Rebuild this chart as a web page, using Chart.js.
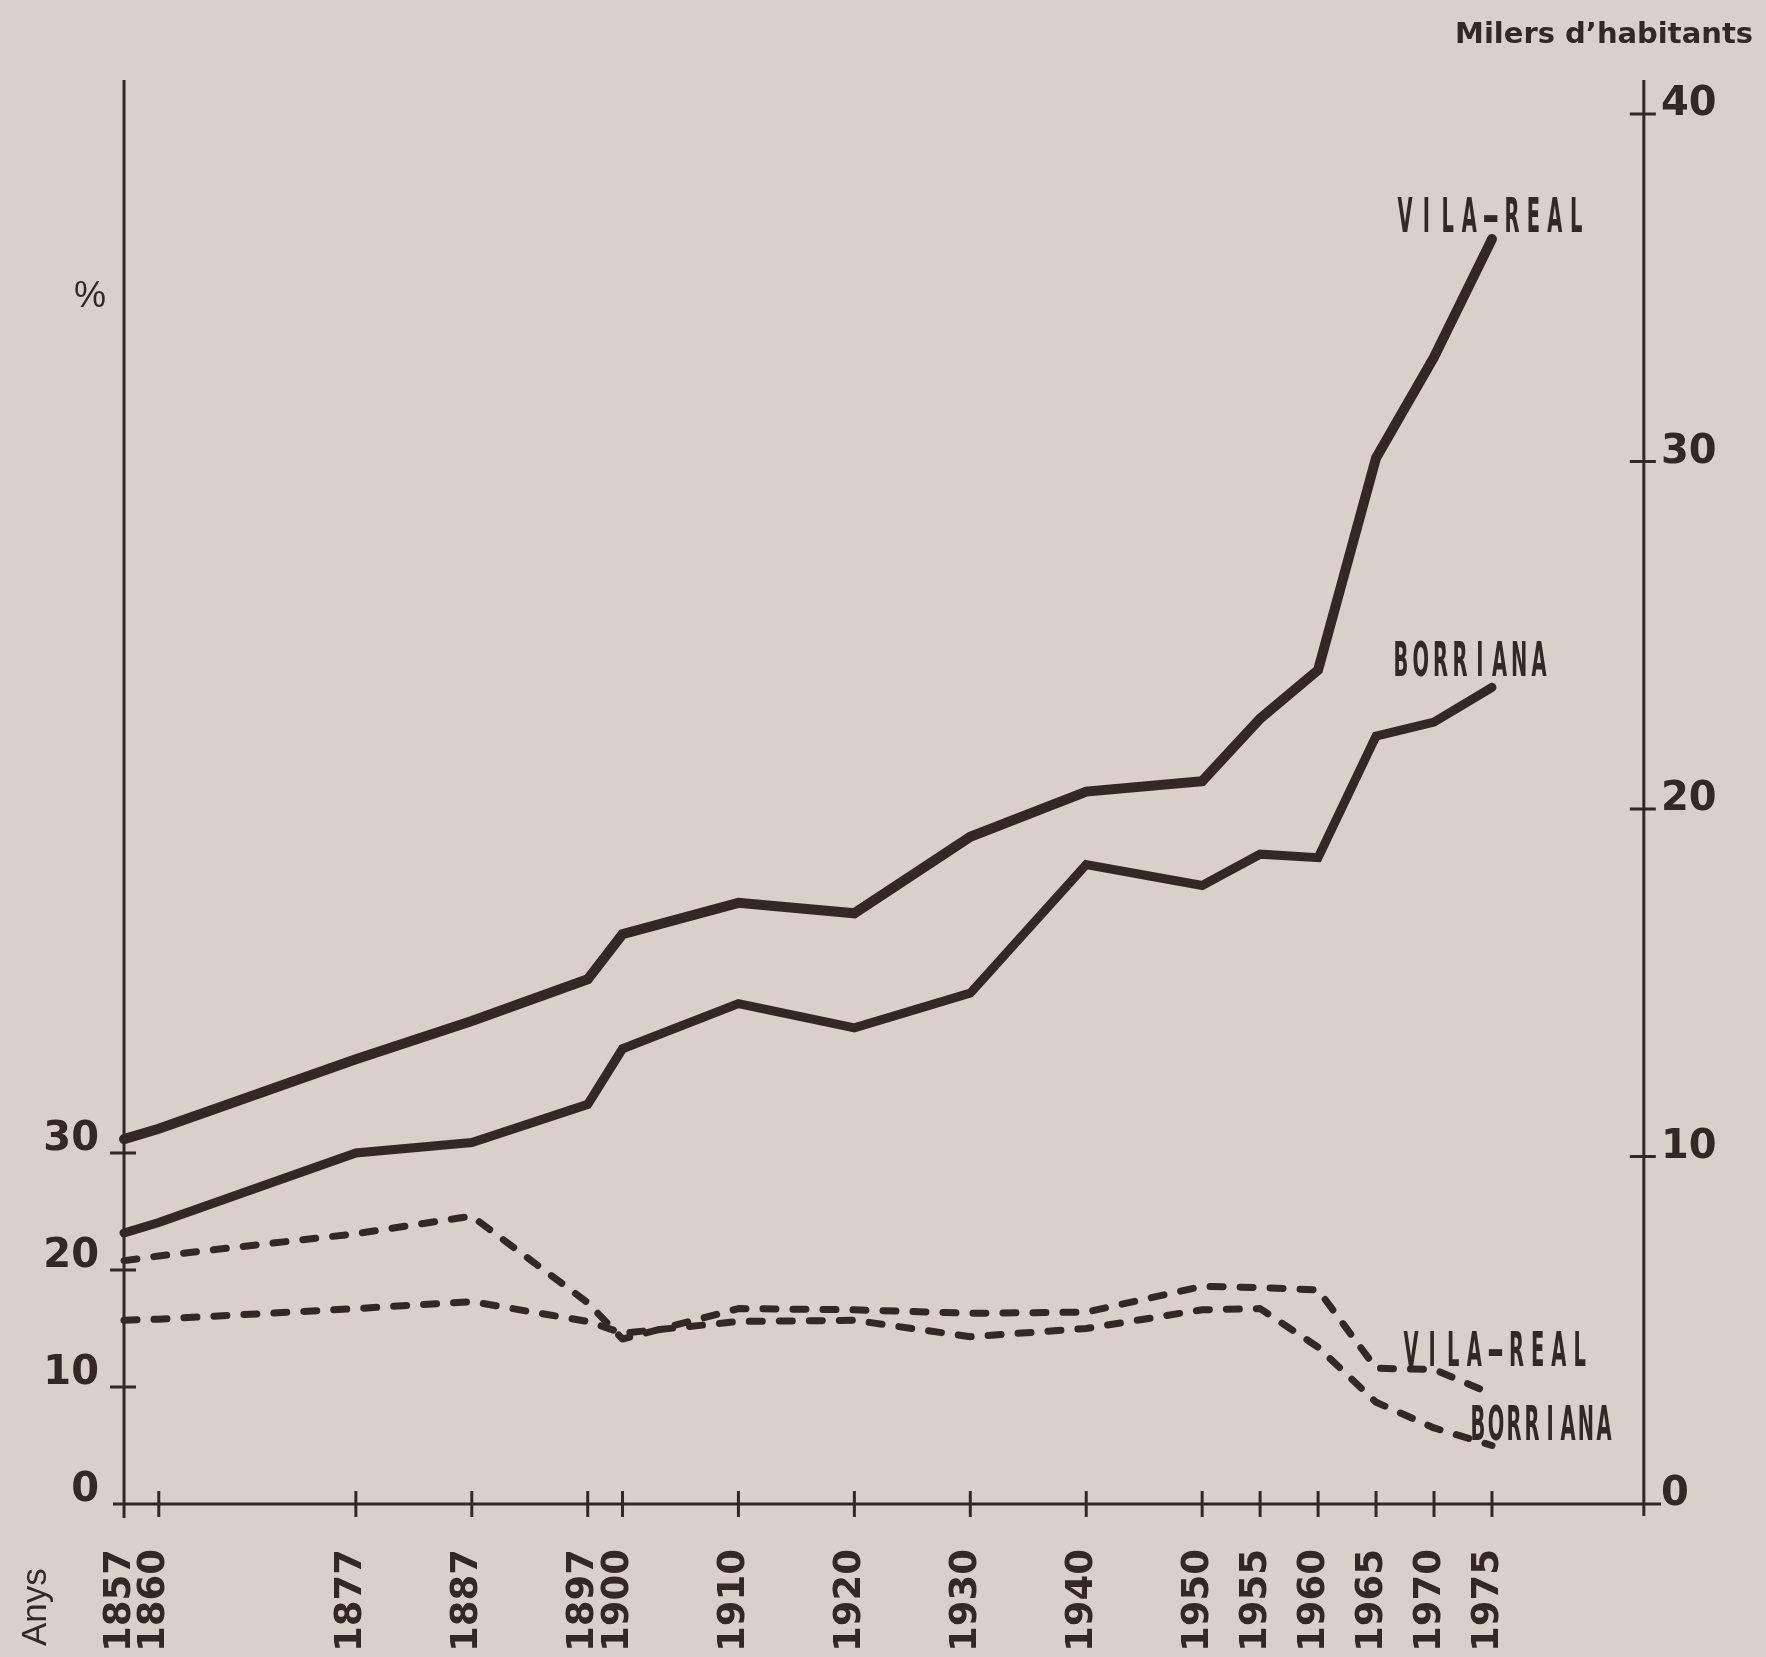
<!DOCTYPE html>
<html>
<head>
<meta charset="utf-8">
<title>Vila-real i Borriana</title>
<script src="https://cdn.jsdelivr.net/npm/chart.js"></script>
<style>
  html, body { margin: 0; padding: 0; background: #d9d0ca; }
  #chart { display: block; }
</style>
</head>
<body>
<canvas id="chart" width="1766" height="1657"></canvas>
<script>
const years = [1857, 1860, 1877, 1887, 1897, 1900, 1910, 1920, 1930, 1940, 1950, 1955, 1960, 1965, 1970, 1975];

// milers d'habitants (right axis)
const popVilaReal = [10.5, 10.8, 12.8, 13.9, 15.1, 16.4, 17.3, 17.0, 19.2, 20.5, 20.8, 22.6, 24.0, 30.1, 33.0, 36.4];
const popBorriana = [7.8, 8.1, 10.1, 10.4, 11.5, 13.1, 14.4, 13.7, 14.7, 18.4, 17.8, 18.7, 18.6, 22.1, 22.5, 23.5];

// % (left axis)
const pctVilaReal = [20.8, 21.2, 23.1, 24.6, 17.2, 14.1, 16.7, 16.6, 16.3, 16.4, 18.6, 18.5, 18.3, 11.6, 11.5, 9.4];
const pctBorriana = [15.7, 15.8, 16.7, 17.3, 15.6, 14.6, 15.6, 15.7, 14.3, 15.0, 16.6, 16.7, 13.4, 8.7, 6.5, 5.0];

const pctTicks = [0, 10, 20, 30];
const popTicks = [0, 10, 20, 30, 40];

const INK = '#332824';
const NUM_FONT = '"DejaVu Sans", "Liberation Sans", sans-serif';
const RIGHT_AXIS_YEAR = 1988.1;

const toPoints = vals => years.map((y, i) => ({ x: y, y: vals[i] }));

// axis lines and crossing tick marks, drawn like the hand-inked original
const axesPlugin = {
  id: 'axes',
  afterDatasetsDraw(chart) {
    const { ctx, chartArea } = chart;
    const x = chart.scales.x, yPct = chart.scales.yPct, yPop = chart.scales.yPop;
    const y0 = yPct.getPixelForValue(0);
    const xl = x.getPixelForValue(years[0]);
    const xr = x.getPixelForValue(RIGHT_AXIS_YEAR);
    ctx.save();
    ctx.strokeStyle = INK;
    ctx.lineWidth = 3;
    ctx.lineCap = 'butt';
    ctx.beginPath();
    ctx.moveTo(chartArea.left, y0); ctx.lineTo(chartArea.right, y0);
    ctx.moveTo(xl, chartArea.top); ctx.lineTo(xl, y0 + 14);
    ctx.moveTo(xr, chartArea.top); ctx.lineTo(xr, y0 + 12);
    years.slice(1).forEach(v => {
      const px = x.getPixelForValue(v);
      ctx.moveTo(px, y0 - 13); ctx.lineTo(px, y0 + 13);
    });
    pctTicks.slice(1).forEach(v => {
      const py = yPct.getPixelForValue(v);
      ctx.moveTo(xl - 14, py); ctx.lineTo(xl + 12, py);
    });
    popTicks.slice(1).forEach(v => {
      const py = yPop.getPixelForValue(v);
      ctx.moveTo(xr - 14, py); ctx.lineTo(xr + 12, py);
    });
    ctx.stroke();
    ctx.restore();
  }
};

// tall, narrow, widely spaced lettering of the curve names
function spaced(ctx, text, left, base, pitch) {
  ctx.save();
  ctx.font = 'bold 48px "Liberation Sans Narrow", "DejaVu Sans Condensed", "Liberation Sans", sans-serif';
  ctx.fillStyle = INK;
  ctx.textAlign = 'center';
  ctx.textBaseline = 'alphabetic';
  [...text].forEach((ch, i) => {
    ctx.save();
    ctx.translate(left + 6 + i * pitch, base);
    ctx.scale(ch === '-' ? 1.0 : 0.45, 1);
    ctx.fillText(ch, 0, 0);
    ctx.restore();
  });
  ctx.restore();
}

const textPlugin = {
  id: 'texts',
  afterDraw(chart) {
    const ctx = chart.ctx;
    ctx.save();
    ctx.fillStyle = INK;

    ctx.font = 'bold 29px ' + NUM_FONT;
    ctx.textAlign = 'right';
    ctx.textBaseline = 'alphabetic';
    ctx.fillText('Milers d\u2019habitants', 1753, 43);

    ctx.font = '36px "Liberation Sans", sans-serif';
    ctx.textAlign = 'center';
    ctx.fillText('%', 90, 307);

    ctx.save();
    ctx.translate(46, 1646);
    ctx.rotate(-Math.PI / 2);
    ctx.font = '35px "Liberation Sans", sans-serif';
    ctx.textAlign = 'left';
    ctx.fillText('Anys', 0, 0);
    ctx.restore();
    ctx.restore();

    spaced(ctx, 'VILA-REAL', 1399, 232, 21.4);
    spaced(ctx, 'BORRIANA', 1395, 676, 19.7);
    spaced(ctx, 'VILA-REAL', 1405, 1366, 21.1);
    spaced(ctx, 'BORRIANA', 1472, 1440, 18);
  }
};

const solid = (vals, w) => ({
  data: toPoints(vals), yAxisID: 'yPop',
  borderColor: INK, borderWidth: w, pointRadius: 0,
  borderJoinStyle: 'miter', borderCapStyle: 'round', tension: 0
});
const dashed = vals => ({
  data: toPoints(vals), yAxisID: 'yPct',
  borderColor: INK, borderWidth: 7, pointRadius: 0,
  borderDash: [13, 17], borderCapStyle: 'round', borderJoinStyle: 'round', tension: 0
});

new Chart(document.getElementById('chart'), {
  type: 'line',
  data: {
    datasets: [
      solid(popVilaReal, 10),
      solid(popBorriana, 9),
      dashed(pctVilaReal),
      dashed(pctBorriana)
    ]
  },
  options: {
    responsive: false,
    devicePixelRatio: 1,
    animation: false,
    events: [],
    layout: { padding: { top: 80, left: 0, right: 0, bottom: 0 } },
    plugins: { legend: { display: false }, tooltip: { enabled: false } },
    scales: {
      x: {
        type: 'linear',
        position: 'bottom',
        min: 1856.05,
        max: 1989.58,
        afterBuildTicks: s => { s.ticks = years.map(v => ({ value: v })); },
        afterFit: s => { s.height = 153; },
        grid: { display: false, drawTicks: false },
        border: { display: false },
        ticks: {
          autoSkip: false,
          minRotation: 90,
          maxRotation: 90,
          padding: 45,
          labelOffset: -4,
          color: INK,
          font: { family: NUM_FONT, weight: 'bold', size: 37 },
          callback: v => String(v)
        }
      },
      yPct: {
        type: 'linear',
        position: 'left',
        min: 0,
        max: 1424 / 11.7,
        afterBuildTicks: s => { s.ticks = pctTicks.map(v => ({ value: v })); },
        afterFit: s => { s.width = 113; },
        grid: { display: false, drawTicks: false },
        border: { display: false },
        ticks: {
          padding: 14,
          labelOffset: -13,
          color: INK,
          font: { family: NUM_FONT, weight: 'bold', size: 40 },
          callback: v => String(v)
        }
      },
      yPop: {
        type: 'linear',
        position: 'right',
        min: 0,
        max: 1424 / 34.75,
        afterBuildTicks: s => { s.ticks = popTicks.map(v => ({ value: v })); },
        afterFit: s => { s.width = 105; },
        grid: { display: false, drawTicks: false },
        border: { display: false },
        ticks: {
          padding: 0,
          labelOffset: -9,
          color: INK,
          font: { family: NUM_FONT, weight: 'bold', size: 40 },
          callback: v => String(v)
        }
      }
    }
  },
  plugins: [axesPlugin, textPlugin]
});
</script>
</body>
</html>
